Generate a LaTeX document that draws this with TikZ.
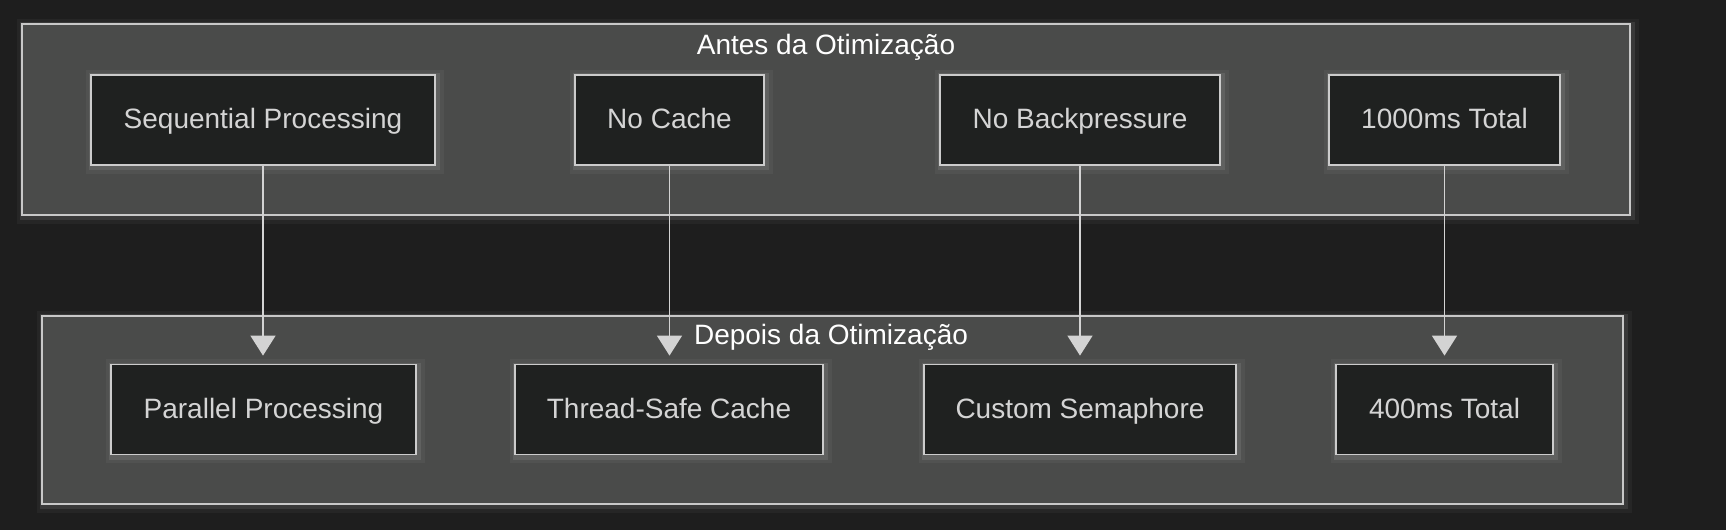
\documentclass[tikz,border=0pt]{standalone}
\usepackage{fontspec}
\setmainfont{Liberation Sans}
\usetikzlibrary{arrows.meta}
\definecolor{bgc}{HTML}{1E1E1E}
\definecolor{grpfill}{HTML}{4A4B4A}
\definecolor{grpline}{HTML}{C8C8C8}
\definecolor{nodefill}{HTML}{1F2120}
\definecolor{nodeline}{HTML}{CCCCCC}
\definecolor{nodetext}{HTML}{D4D4D4}
\definecolor{arrowc}{HTML}{D3D3D3}
\tikzset{
  glow/.style={preaction={draw=white,draw opacity=0.04,line width=7pt,
                 transform canvas={shift={(0.8pt,-0.8pt)}}},
               preaction={draw=white,draw opacity=0.09,line width=3.5pt,
                 transform canvas={shift={(0.8pt,-0.8pt)}}}},
  grp/.style={glow,draw=grpline,fill=grpfill,line width=0.9pt},
  procbox/.style={glow,draw=nodeline,fill=nodefill,line width=0.9pt,
    text=nodetext,font=\fontsize{14}{17}\selectfont,inner sep=0pt,
    text height=12pt,text depth=3.2pt,minimum height=45pt},
  grptitle/.style={text=white,font=\fontsize{14}{17}\selectfont,inner sep=0pt,
    text height=12pt,text depth=3.2pt},
  flow/.style={draw=arrowc,line width=0.8pt,
    -{Triangle[length=10pt,width=12.5pt]},shorten >=4pt}
}
\begin{document}
\begin{tikzpicture}[x=0.5pt,y=-0.5pt]
\fill[bgc] (0,0) rectangle (1726,530);
\useasboundingbox (0,0) rectangle (1726,530);
% groups
\path[grp] (22,24) rectangle (1630,215);
\path[grp] (42,316) rectangle (1623,504);
\node[grptitle] (t1) at (826,46) {Antes da Otimização};
% top nodes
\node[procbox,minimum width=172pt] (seq) at (263,120) {Sequential Processing};
\node[procbox,minimum width=94.5pt] (nocache) at (669.5,120) {No Cache};
\node[procbox,minimum width=140pt] (noback) at (1080,120) {No Backpressure};
\node[procbox,minimum width=115.5pt] (t1000) at (1444.5,120) {1000ms Total};
% bottom nodes
\node[procbox,minimum width=152.5pt] (par) at (263.5,409.5) {Parallel Processing};
\node[procbox,minimum width=154pt] (cache) at (669,409.5) {Thread-Safe Cache};
\node[procbox,minimum width=156pt] (sem) at (1080,409.5) {Custom Semaphore};
\node[procbox,minimum width=108.5pt] (t400) at (1444.5,409.5) {400ms Total};
% arrows
\draw[flow] (seq.south) -- (seq.south |- par.north);
\draw[flow] (nocache.south) -- (nocache.south |- cache.north);
\draw[flow] (noback.south) -- (noback.south |- sem.north);
\draw[flow] (t1000.south) -- (t1000.south |- t400.north);
\node[grptitle] (t2) at (831,336) {Depois da Otimização};
\end{tikzpicture}
\end{document}
